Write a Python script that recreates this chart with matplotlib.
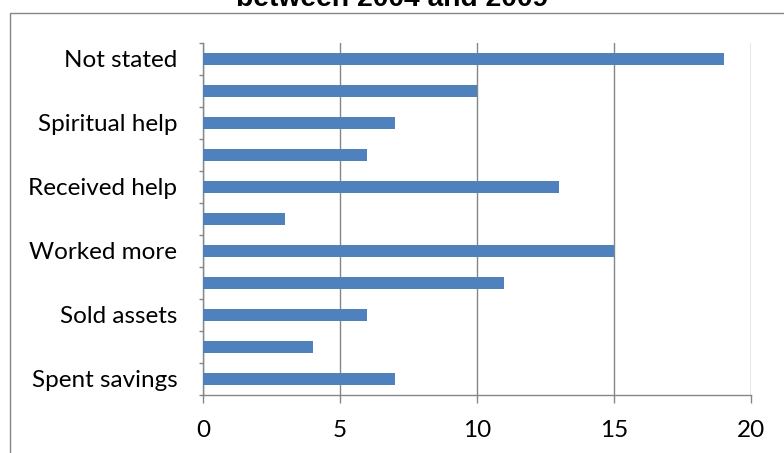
import matplotlib
matplotlib.use("Agg")
import matplotlib.pyplot as plt
from matplotlib.patches import Rectangle
import numpy as np

# Coping strategies, bottom to top; every other category name is shown
categories = ["Spent savings", "", "Sold assets", "", "Worked more", "",
              "Received help", "", "Spiritual help", "", "Not stated"]
values = [7, 4, 6, 11, 15, 3, 13, 6, 7, 10, 19]
x_ticks = [0, 5, 10, 15, 20]
title_text = "between 2004 and 2009"

BAR = "#4F81BD"
GRID = "#868686"
DPI = 100
W, H = 784, 453

fig = plt.figure(figsize=(W / DPI, H / DPI), dpi=DPI)
fig.patch.set_facecolor("white")

# chart area border
fig.add_artist(Rectangle((10 / W, -0.1), 1.2, (H - 13) / H + 0.1,
                         transform=fig.transFigure, fill=False,
                         edgecolor=GRID, linewidth=1.0))

left, right = 203 / W, 751 / W
bottom, top = (H - 395) / H, (H - 42.7) / H
ax = fig.add_axes([left, bottom, right - left, top - bottom])

y = np.arange(len(values))
ax.barh(y, values, height=0.38, color=BAR, zorder=3)

ax.set_xlim(0, 20)
ax.set_ylim(-0.5, len(values) - 0.5)
ax.set_xticks(x_ticks)
ax.set_xticklabels([str(t) for t in x_ticks])
ax.set_yticks(y)
ax.set_yticklabels(categories)
ax.set_yticks(np.arange(len(values) + 1) - 0.5, minor=True)

for s in ["top", "right"]:
    ax.spines[s].set_visible(False)
for s in ["left", "bottom"]:
    ax.spines[s].set_color(GRID)
    ax.spines[s].set_linewidth(1.0)

ax.grid(axis="x", color=GRID, linewidth=1.0, zorder=0)
ax.tick_params(axis="y", which="major", length=0, pad=18.5)
ax.tick_params(axis="y", which="minor", length=3, color=GRID, width=1.0)
ax.tick_params(axis="x", which="major", length=6, color=GRID, width=1.0, pad=12)

font = ["Lato", "DejaVu Sans"]
for lab in ax.get_yticklabels() + ax.get_xticklabels():
    lab.set_fontfamily(font)
    lab.set_fontsize(17.5)
    lab.set_color("black")

fig.text(0.5, (H - 6.5) / H, title_text, ha="center", va="baseline",
         fontsize=20.3, fontweight="bold", family=["Liberation Sans", "DejaVu Sans"])

fig.savefig("out.png", dpi=DPI)
